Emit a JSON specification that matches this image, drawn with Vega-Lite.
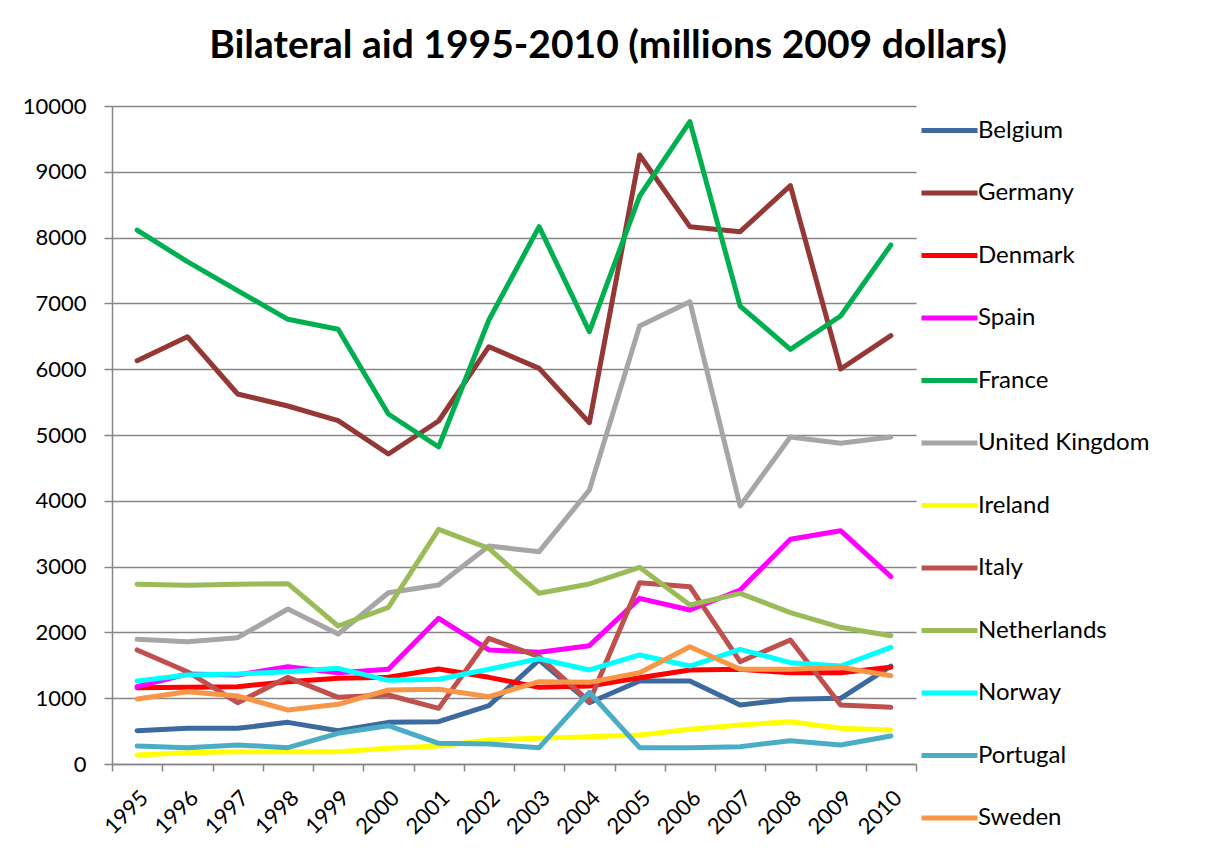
{
  "$schema": "https://vega.github.io/schema/vega-lite/v6.json",
  "width": 804,
  "height": 658,
  "autosize": {"type": "none"},
  "padding": {"left": 112, "top": 106, "right": 299, "bottom": 93},
  "background": "white",
  "title": {
    "text": "Bilateral aid 1995-2010 (millions 2009 dollars)",
    "font": "Lato",
    "fontSize": 39,
    "fontWeight": "bold",
    "color": "black",
    "anchor": "middle",
    "dx": 94,
    "offset": 29
  },
  "config": {
    "view": {"stroke": null},
    "axis": {
      "domainColor": "#868686",
      "domainWidth": 1.5,
      "gridColor": "#868686",
      "gridWidth": 1.5,
      "tickColor": "#868686",
      "tickWidth": 1.5,
      "labelFont": "Lato",
      "labelFontSize": 22,
      "labelColor": "black",
      "title": null
    }
  },
  "datasets": {
    "aid": [
      {"country":"Belgium","year":"1995","aid":506},{"country":"Belgium","year":"1996","aid":542},{"country":"Belgium","year":"1997","aid":542},{"country":"Belgium","year":"1998","aid":633},{"country":"Belgium","year":"1999","aid":506},{"country":"Belgium","year":"2000","aid":633},{"country":"Belgium","year":"2001","aid":643},{"country":"Belgium","year":"2002","aid":886},{"country":"Belgium","year":"2003","aid":1581},{"country":"Belgium","year":"2004","aid":932},{"country":"Belgium","year":"2005","aid":1261},{"country":"Belgium","year":"2006","aid":1261},{"country":"Belgium","year":"2007","aid":897},{"country":"Belgium","year":"2008","aid":983},{"country":"Belgium","year":"2009","aid":998},{"country":"Belgium","year":"2010","aid":1489},
      {"country":"Germany","year":"1995","aid":6130},{"country":"Germany","year":"1996","aid":6494},{"country":"Germany","year":"1997","aid":5623},{"country":"Germany","year":"1998","aid":5441},{"country":"Germany","year":"1999","aid":5218},{"country":"Germany","year":"2000","aid":4711},{"country":"Germany","year":"2001","aid":5213},{"country":"Germany","year":"2002","aid":6342},{"country":"Germany","year":"2003","aid":6013},{"country":"Germany","year":"2004","aid":5187},{"country":"Germany","year":"2005","aid":9255},{"country":"Germany","year":"2006","aid":8166},{"country":"Germany","year":"2007","aid":8090},{"country":"Germany","year":"2008","aid":8789},{"country":"Germany","year":"2009","aid":6003},{"country":"Germany","year":"2010","aid":6509},
      {"country":"Denmark","year":"1995","aid":1160},{"country":"Denmark","year":"1996","aid":1165},{"country":"Denmark","year":"1997","aid":1175},{"country":"Denmark","year":"1998","aid":1251},{"country":"Denmark","year":"1999","aid":1302},{"country":"Denmark","year":"2000","aid":1317},{"country":"Denmark","year":"2001","aid":1444},{"country":"Denmark","year":"2002","aid":1317},{"country":"Denmark","year":"2003","aid":1165},{"country":"Denmark","year":"2004","aid":1185},{"country":"Denmark","year":"2005","aid":1312},{"country":"Denmark","year":"2006","aid":1429},{"country":"Denmark","year":"2007","aid":1439},{"country":"Denmark","year":"2008","aid":1388},{"country":"Denmark","year":"2009","aid":1388},{"country":"Denmark","year":"2010","aid":1469},
      {"country":"Spain","year":"1995","aid":1175},{"country":"Spain","year":"1996","aid":1368},{"country":"Spain","year":"1997","aid":1352},{"country":"Spain","year":"1998","aid":1479},{"country":"Spain","year":"1999","aid":1388},{"country":"Spain","year":"2000","aid":1439},{"country":"Spain","year":"2001","aid":2214},{"country":"Spain","year":"2002","aid":1733},{"country":"Spain","year":"2003","aid":1697},{"country":"Spain","year":"2004","aid":1798},{"country":"Spain","year":"2005","aid":2518},{"country":"Spain","year":"2006","aid":2340},{"country":"Spain","year":"2007","aid":2644},{"country":"Spain","year":"2008","aid":3415},{"country":"Spain","year":"2009","aid":3546},{"country":"Spain","year":"2010","aid":2847},
      {"country":"France","year":"1995","aid":8115},{"country":"France","year":"1996","aid":7634},{"country":"France","year":"1997","aid":7195},{"country":"France","year":"1998","aid":6758},{"country":"France","year":"1999","aid":6606},{"country":"France","year":"2000","aid":5319},{"country":"France","year":"2001","aid":4818},{"country":"France","year":"2002","aid":6748},{"country":"France","year":"2003","aid":8166},{"country":"France","year":"2004","aid":6570},{"country":"France","year":"2005","aid":8632},{"country":"France","year":"2006","aid":9762},{"country":"France","year":"2007","aid":6960},{"country":"France","year":"2008","aid":6302},{"country":"France","year":"2009","aid":6809},{"country":"France","year":"2010","aid":7888},
      {"country":"United Kingdom","year":"1995","aid":1895},{"country":"United Kingdom","year":"1996","aid":1859},{"country":"United Kingdom","year":"1997","aid":1920},{"country":"United Kingdom","year":"1998","aid":2356},{"country":"United Kingdom","year":"1999","aid":1976},{"country":"United Kingdom","year":"2000","aid":2603},{"country":"United Kingdom","year":"2001","aid":2720},{"country":"United Kingdom","year":"2002","aid":3313},{"country":"United Kingdom","year":"2003","aid":3227},{"country":"United Kingdom","year":"2004","aid":4164},{"country":"United Kingdom","year":"2005","aid":6657},{"country":"United Kingdom","year":"2006","aid":7026},{"country":"United Kingdom","year":"2007","aid":3921},{"country":"United Kingdom","year":"2008","aid":4970},{"country":"United Kingdom","year":"2009","aid":4875},{"country":"United Kingdom","year":"2010","aid":4970},
      {"country":"Ireland","year":"1995","aid":137},{"country":"Ireland","year":"1996","aid":172},{"country":"Ireland","year":"1997","aid":187},{"country":"Ireland","year":"1998","aid":187},{"country":"Ireland","year":"1999","aid":187},{"country":"Ireland","year":"2000","aid":238},{"country":"Ireland","year":"2001","aid":274},{"country":"Ireland","year":"2002","aid":365},{"country":"Ireland","year":"2003","aid":390},{"country":"Ireland","year":"2004","aid":415},{"country":"Ireland","year":"2005","aid":441},{"country":"Ireland","year":"2006","aid":527},{"country":"Ireland","year":"2007","aid":593},{"country":"Ireland","year":"2008","aid":643},{"country":"Ireland","year":"2009","aid":542},{"country":"Ireland","year":"2010","aid":517},
      {"country":"Italy","year":"1995","aid":1733},{"country":"Italy","year":"1996","aid":1403},{"country":"Italy","year":"1997","aid":932},{"country":"Italy","year":"1998","aid":1317},{"country":"Italy","year":"1999","aid":1013},{"country":"Italy","year":"2000","aid":1049},{"country":"Italy","year":"2001","aid":846},{"country":"Italy","year":"2002","aid":1910},{"country":"Italy","year":"2003","aid":1631},{"country":"Italy","year":"2004","aid":947},{"country":"Italy","year":"2005","aid":2755},{"country":"Italy","year":"2006","aid":2695},{"country":"Italy","year":"2007","aid":1555},{"country":"Italy","year":"2008","aid":1884},{"country":"Italy","year":"2009","aid":897},{"country":"Italy","year":"2010","aid":861},
      {"country":"Netherlands","year":"1995","aid":2731},{"country":"Netherlands","year":"1996","aid":2715},{"country":"Netherlands","year":"1997","aid":2731},{"country":"Netherlands","year":"1998","aid":2740},{"country":"Netherlands","year":"1999","aid":2097},{"country":"Netherlands","year":"2000","aid":2381},{"country":"Netherlands","year":"2001","aid":3567},{"country":"Netherlands","year":"2002","aid":3278},{"country":"Netherlands","year":"2003","aid":2594},{"country":"Netherlands","year":"2004","aid":2736},{"country":"Netherlands","year":"2005","aid":2989},{"country":"Netherlands","year":"2006","aid":2416},{"country":"Netherlands","year":"2007","aid":2594},{"country":"Netherlands","year":"2008","aid":2300},{"country":"Netherlands","year":"2009","aid":2077},{"country":"Netherlands","year":"2010","aid":1950},
      {"country":"Norway","year":"1995","aid":1261},{"country":"Norway","year":"1996","aid":1352},{"country":"Norway","year":"1997","aid":1368},{"country":"Norway","year":"1998","aid":1403},{"country":"Norway","year":"1999","aid":1454},{"country":"Norway","year":"2000","aid":1271},{"country":"Norway","year":"2001","aid":1287},{"country":"Norway","year":"2002","aid":1439},{"country":"Norway","year":"2003","aid":1600},{"country":"Norway","year":"2004","aid":1429},{"country":"Norway","year":"2005","aid":1657},{"country":"Norway","year":"2006","aid":1489},{"country":"Norway","year":"2007","aid":1743},{"country":"Norway","year":"2008","aid":1540},{"country":"Norway","year":"2009","aid":1489},{"country":"Norway","year":"2010","aid":1773},
      {"country":"Portugal","year":"1995","aid":274},{"country":"Portugal","year":"1996","aid":248},{"country":"Portugal","year":"1997","aid":289},{"country":"Portugal","year":"1998","aid":248},{"country":"Portugal","year":"1999","aid":466},{"country":"Portugal","year":"2000","aid":582},{"country":"Portugal","year":"2001","aid":314},{"country":"Portugal","year":"2002","aid":304},{"country":"Portugal","year":"2003","aid":248},{"country":"Portugal","year":"2004","aid":1090},{"country":"Portugal","year":"2005","aid":248},{"country":"Portugal","year":"2006","aid":248},{"country":"Portugal","year":"2007","aid":263},{"country":"Portugal","year":"2008","aid":354},{"country":"Portugal","year":"2009","aid":289},{"country":"Portugal","year":"2010","aid":426},
      {"country":"Sweden","year":"1995","aid":988},{"country":"Sweden","year":"1996","aid":1099},{"country":"Sweden","year":"1997","aid":1033},{"country":"Sweden","year":"1998","aid":821},{"country":"Sweden","year":"1999","aid":907},{"country":"Sweden","year":"2000","aid":1125},{"country":"Sweden","year":"2001","aid":1135},{"country":"Sweden","year":"2002","aid":1023},{"country":"Sweden","year":"2003","aid":1251},{"country":"Sweden","year":"2004","aid":1241},{"country":"Sweden","year":"2005","aid":1388},{"country":"Sweden","year":"2006","aid":1783},{"country":"Sweden","year":"2007","aid":1439},{"country":"Sweden","year":"2008","aid":1439},{"country":"Sweden","year":"2009","aid":1469},{"country":"Sweden","year":"2010","aid":1342}
    ]
  },
  "data": {"name": "aid"},
  "mark": {"type": "line", "strokeWidth": 5, "strokeCap": "round", "strokeJoin": "round"},
  "encoding": {
    "x": {
      "field": "year",
      "type": "ordinal",
      "bandPosition": 0.5,
      "scale": {"type": "band", "paddingInner": 0, "paddingOuter": 0},
      "axis": {
        "tickBand": "extent",
        "labelAngle": -45,
        "tickSize": 7,
        "labelPadding": 16,
        "grid": false
      }
    },
    "y": {
      "field": "aid",
      "type": "quantitative",
      "scale": {"domain": [0, 10000], "nice": false},
      "axis": {
        "values": [0, 1000, 2000, 3000, 4000, 5000, 6000, 7000, 8000, 9000, 10000],
        "format": "d",
        "tickSize": 8,
        "labelPadding": 18,
        "grid": true
      }
    },
    "color": {
      "field": "country",
      "type": "nominal",
      "scale": {
        "domain": ["Belgium", "Germany", "Denmark", "Spain", "France", "United Kingdom", "Ireland", "Italy", "Netherlands", "Norway", "Portugal", "Sweden"],
        "range": ["#3D6A9E", "#953735", "#FF0000", "#FF00FF", "#00B050", "#A6A6A6", "#FFFF00", "#C0504D", "#9BBB59", "#00FFFF", "#4BACC6", "#F79646"]
      },
      "legend": {
        "title": null,
        "orient": "none",
        "legendX": 807,
        "legendY": -6,
        "padding": 0,
        "symbolType": "stroke",
        "symbolSize": 3136,
        "symbolStrokeWidth": 5,
        "labelFont": "Lato",
        "labelFontSize": 24,
        "labelColor": "black",
        "labelOffset": -2,
        "rowPadding": 19.5,
        "labelLimit": 300
      }
    },
    "order": {"field": "year"}
  }
}
